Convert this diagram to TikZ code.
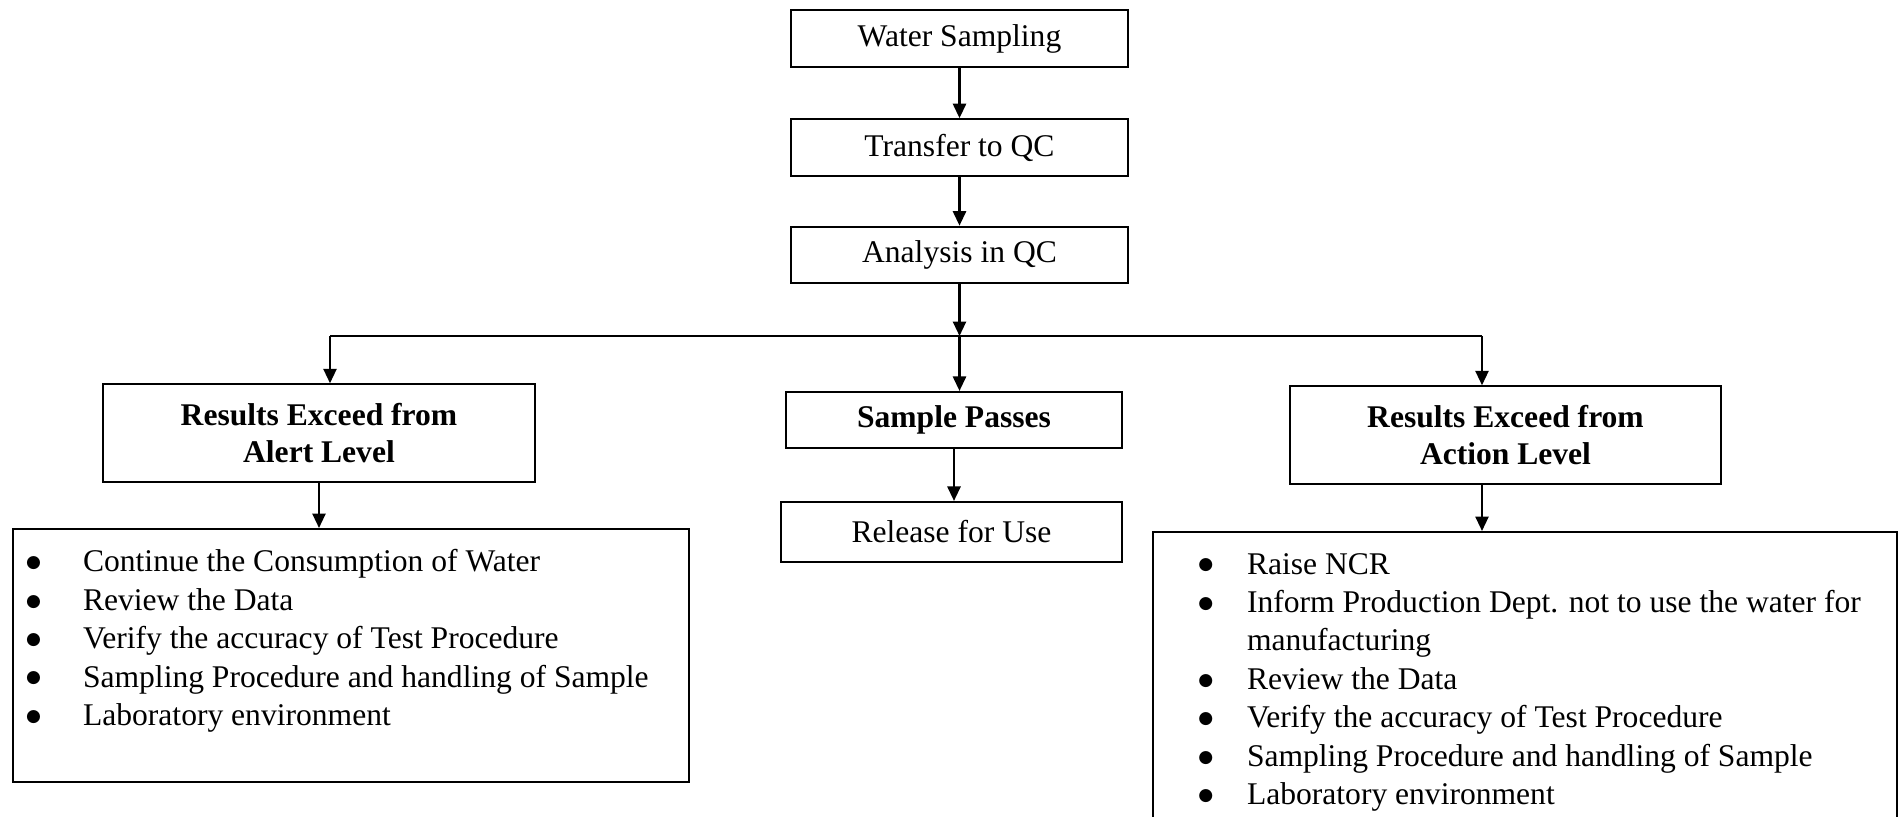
\documentclass[tikz,border=0pt]{standalone}
\usepackage{fontspec}
\setmainfont{Liberation Serif}
\newfontfamily\dotfont{DejaVu Sans}
\usetikzlibrary{arrows.meta,positioning}
\newcommand{\bigdot}{\raisebox{1.6pt}{\dotfont\fontsize{6.5}{6.5}\selectfont ●}}
\tikzset{
  box/.style={draw, line width=0.8pt, inner sep=0pt, align=center},
  smallbox/.style={box, minimum width=128pt, minimum height=21.5pt},
  levelbox/.style={box, minimum width=164pt, minimum height=37pt,
    font=\fontsize{12}{14}\selectfont\bfseries},
  listbox/.style={draw, line width=0.8pt, inner sep=0pt, anchor=north west},
  arr/.style={line width=0.8pt, -{Triangle[length=5.5pt,width=5pt]}},
}
\begin{document}
\begin{tikzpicture}[x=0.38pt, y=-0.38pt, font=\fontsize{12}{14.6}\selectfont]
\useasboundingbox (0,0) rectangle (1902,817);
\clip (0,0) rectangle (1902,817);
% main chain
\node[smallbox] (ws) at (959.5,38.5) {Water Sampling};
\node[smallbox] (tq) at (959.5,147.5) {Transfer to QC};
\node[smallbox] (aq) at (959.5,255) {Analysis in QC};
% outcomes
\node[levelbox] (al) at (319,433) {Results Exceed from\\Alert Level};
\node[smallbox, minimum width=127.5pt, minimum height=21.3pt,
  font=\fontsize{12}{14.6}\selectfont\bfseries] (sp) at (954,420) {Sample Passes};
\node[smallbox, minimum width=129.5pt, minimum height=22.8pt] (ru) at (951.5,532) {Release for Use};
\node[levelbox] (ac) at (1505.5,435) {Results Exceed from\\Action Level};
% what to do
\node[listbox, text height=16.3pt, text depth=79.7pt] (ll) at (12,528) {%
  \begin{tabular}[t]{@{\hspace{5pt}}p{21.6pt}@{}p{230.4pt}@{}}
  \bigdot & Continue the Consumption of Water\\
  \bigdot & Review the Data\\
  \bigdot & Verify the accuracy of Test Procedure\\
  \bigdot & Sampling Procedure and handling of Sample\\
  \bigdot & Laboratory environment
  \end{tabular}};
\node[listbox, text height=16pt, text depth=120pt] (rl) at (1152,531) {%
  \begin{tabular}[t]{@{\hspace{17.2pt}}p{18.5pt}@{}p{247pt}@{}}
  \bigdot & Raise NCR\\
  \bigdot & Inform Production Dept. not to use the water for\\
          & manufacturing\\
  \bigdot & Review the Data\\
  \bigdot & Verify the accuracy of Test Procedure\\
  \bigdot & Sampling Procedure and handling of Sample\\
  \bigdot & Laboratory environment
  \end{tabular}};
% branching line
\coordinate (busL) at (330,336);
\coordinate (busR) at (1482,336);
\coordinate (busM) at (aq.south |- busL);
\draw[line width=0.8pt] (busL) -- (busR);
% arrows
\draw[arr] (ws) -- (tq);
\draw[arr] (tq) -- (aq);
\draw[arr] (aq) -- (busM);
\draw[arr] (busL) -- (busL |- al.north);
\draw[arr] (busM) -- (busM |- sp.north);
\draw[arr] (busR) -- (busR |- ac.north);
\draw[arr] (al) -- (al |- ll.north);
\draw[arr] (sp.south) -- (sp.south |- ru.north);
\draw[arr] (busR |- ac.south) -- (busR |- rl.north);
\end{tikzpicture}
\end{document}
